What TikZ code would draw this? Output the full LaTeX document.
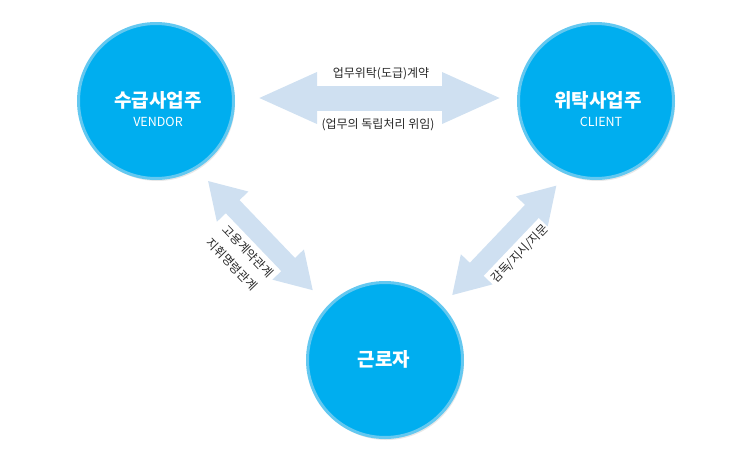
\documentclass[tikz,border=0pt]{standalone}
\usepackage{fontspec}
\setmainfont{Noto Sans CJK KR}
\usepackage{tikz}
\usetikzlibrary{arrows.meta}
\usetikzlibrary{shadows}
\definecolor{circblue}{RGB}{0,174,239}
\definecolor{ringblue}{RGB}{100,200,240}
\definecolor{arrblue}{RGB}{207,224,241}
\definecolor{lblgray}{RGB}{40,40,40}

\begin{document}
\begin{tikzpicture}[x=1pt,y=-1pt,
		hbar/.style={draw=arrblue,line width=25pt,arrows={Triangle[length=60pt,width=47pt]-Triangle[length=60pt,width=47pt]}},
		dbar/.style={draw=arrblue,line width=19pt,arrows={Triangle[length=36pt,width=41pt]-Triangle[length=36pt,width=41pt]}},
		lbl/.style={text=lblgray,font=\fontsize{12}{14}\selectfont,inner sep=0pt}]
		\useasboundingbox (0,0) rectangle (750,461);

		\begin{scope}[every node/.style={circle,fill=circblue,draw=ringblue,line width=3pt,
		              minimum size=155pt,inner sep=0pt,
		              drop shadow={opacity=0.18,shadow xshift=1.5pt,shadow yshift=-2.5pt}}]
			\node (v) at (156,101) {};
			\node (c) at (596,101) {};
			\node (w) at (385,360) {};
		\end{scope}

		\begin{scope}[every node/.style={text=white,inner sep=0pt}]
			\node[font=\fontsize{19}{22}\selectfont\bfseries] (vt) at (158,100) {수급사업주};
			\node[font=\fontsize{12.5}{14}\selectfont] (vs) at (158,122) {VENDOR};
			\node[font=\fontsize{19}{22}\selectfont\bfseries] (ct) at (598,100) {위탁사업주};
			\node[font=\fontsize{12.5}{14}\selectfont] (cs) at (601,122) {CLIENT};
			\node[font=\fontsize{19}{22}\selectfont\bfseries] (wt) at (384,359) {근로자};
		\end{scope}

		\begin{scope}
			\draw[hbar] ([xshift=22pt,yshift=3pt]v.east) -- ([xshift=-15pt,yshift=3pt]c.west);
			\draw[dbar] ([shift={(-57:16pt)}]v.-57) -- ([shift={(136:21pt)}]w.136);
			\draw[dbar] ([shift={(44:14pt)}]w.44) -- ([shift={(-115:14pt)}]c.-115);
		\end{scope}

		\node[lbl] (l1) at (381,73.5) {업무위탁(도급)계약};
		\node[lbl] (l2) at (378,125) {(업무의 독립처리 위임)};
		\node[lbl,rotate=-46] (l3) at (248,251) {고용계약관계};
		\node[lbl,rotate=-46] (l4) at (232,264) {지휘명령관계};
		\node[lbl,rotate=46] (l5) at (520,254) {감독/지시/지문};
\end{tikzpicture}
\end{document}
